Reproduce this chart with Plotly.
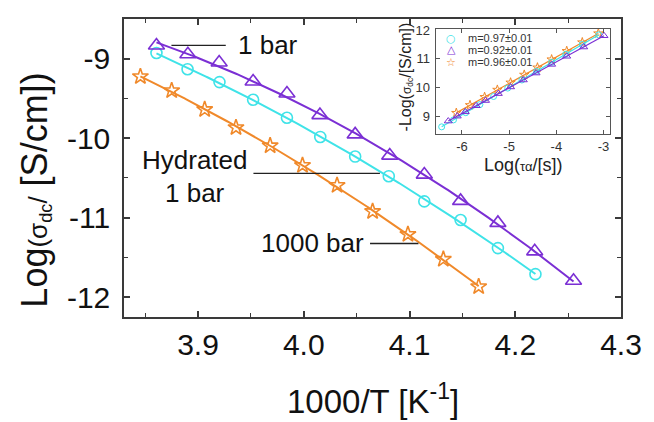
import numpy as np
import plotly.graph_objects as go

# ---------------- main panel data ----------------
x_1bar = [3.8607, 3.8904, 3.9200, 3.9521, 3.9841, 4.0153, 4.0486, 4.0813, 4.1140, 4.1483, 4.1836, 4.2184, 4.2551]
y_1bar = [-8.833, -8.944, -9.047, -9.286, -9.438, -9.709, -9.952, -10.219, -10.458, -10.789, -11.066, -11.424, -11.794]

x_hyd = [3.8607, 3.8901, 3.9203, 3.9521, 3.9841, 4.0156, 4.0486, 4.0804, 4.1140, 4.1483, 4.1836, 4.2191]
y_hyd = [-8.928, -9.133, -9.294, -9.516, -9.743, -9.984, -10.231, -10.478, -10.795, -11.029, -11.383, -11.711]

x_1000 = [3.8455, 3.8751, 3.9063, 3.9359, 3.9682, 3.9988, 4.0315, 4.0651, 4.0985, 4.1320, 4.1654]
y_1000 = [-9.224, -9.401, -9.639, -9.866, -10.095, -10.342, -10.594, -10.922, -11.210, -11.523, -11.868]

main_xticks = [3.9, 4.0, 4.1, 4.2, 4.3]
main_yticks = [-12, -11, -10, -9]
main_yticktext = ["-12", "-11", "-10", "-9"]

# ---------------- inset data ----------------
ix_hyd = [-6.43, -6.18, -5.92, -5.62, -5.33, -5.03, -4.73, -4.42, -4.10, -3.80, -3.45, -3.10]
iy_hyd = [8.65, 8.89, 9.14, 9.42, 9.70, 9.99, 10.27, 10.57, 10.88, 11.16, 11.50, 11.83]

ix_1bar = [-6.29, -6.10, -5.93, -5.70, -5.50, -5.23, -4.97, -4.70, -4.43, -4.10, -3.78, -3.42, -2.99]
iy_1bar = [8.85, 9.02, 9.17, 9.38, 9.56, 9.80, 10.03, 10.27, 10.51, 10.81, 11.09, 11.41, 11.80]

ix_1000 = [-6.12, -5.83, -5.52, -5.25, -4.97, -4.68, -4.40, -4.10, -3.78, -3.45, -3.11]
iy_1000 = [9.13, 9.40, 9.68, 9.93, 10.18, 10.45, 10.70, 10.98, 11.27, 11.57, 11.88]

inset_xticks = [-6, -5, -4, -3]
inset_xticktext = ["-6", "-5", "-4", "-3"]
inset_yticks = [9, 10, 11, 12]
legend_labels = ["m=0.97±0.01", "m=0.92±0.01", "m=0.96±0.01"]

PURPLE = "#7b2fd4"
CYAN = "#3fe3e8"
ORANGE = "#f0892a"
AX = "#3a3a3a"
FONT = "Liberation Sans, Arial, sans-serif"

# figure geometry (pixels)
W, H = 654, 422
L, R, T, B = 124, 27, 13, 105
PW, PH = W - L - R, H - T - B


def px(xp):
    return (xp - L) / PW


def py(yp):
    return (H - B - yp) / PH


def fit_curve(x, y, deg, n=200):
    c = np.polyfit(x, y, deg)
    xs = np.linspace(min(x), max(x), n)
    return xs, np.polyval(c, xs)


fig = go.Figure()

# main panel
for xs, ys, col, sym, size in [
    (x_1000, y_1000, ORANGE, "star-open", 12),
    (x_hyd, y_hyd, CYAN, "circle-open", 11),
    (x_1bar, y_1bar, PURPLE, "triangle-up-open", 14),
]:
    fx, fy = fit_curve(xs, ys, 2)
    fig.add_trace(go.Scatter(x=fx, y=fy, mode="lines", line=dict(color=col, width=2),
                             showlegend=False, hoverinfo="skip", xaxis="x", yaxis="y"))
    fig.add_trace(go.Scatter(x=xs, y=ys, mode="markers", showlegend=False,
                             marker=dict(symbol=sym, size=size, color=col, line=dict(width=1.6, color=col)),
                             xaxis="x", yaxis="y"))

# inset
for xs, ys, col, sym, size in [
    (ix_1000, iy_1000, ORANGE, "star-open", 7),
    (ix_hyd, iy_hyd, CYAN, "circle-open", 6),
    (ix_1bar, iy_1bar, PURPLE, "triangle-up-open", 7),
]:
    fx, fy = fit_curve(xs, ys, 1)
    fig.add_trace(go.Scatter(x=fx, y=fy, mode="lines", line=dict(color=col, width=1.2),
                             showlegend=False, hoverinfo="skip", xaxis="x2", yaxis="y2"))
    fig.add_trace(go.Scatter(x=xs, y=ys, mode="markers", showlegend=False,
                             marker=dict(symbol=sym, size=size, color=col, line=dict(width=1, color=col)),
                             xaxis="x2", yaxis="y2"))

axis_common = dict(showline=True, linecolor=AX, linewidth=1.5, mirror="allticks",
                   ticks="inside", tickcolor=AX, showgrid=False, zeroline=False)

ix0, ix1 = px(439.3), px(616)
iy0, iy1 = py(130.7), py(23.3)

fig.update_layout(
    width=W, height=H, margin=dict(l=L, r=R, t=T, b=B),
    paper_bgcolor="white", plot_bgcolor="white",
    font=dict(family=FONT, color="#111"),
    showlegend=False,
    xaxis=dict(domain=[0, 1], range=[3.83, 4.3], tickvals=main_xticks, tickformat=".1f",
               ticklen=6, tickwidth=1.5, tickfont=dict(size=30, color="#111"),
               ticklabelstandoff=0,
               minor=dict(ticks="inside", ticklen=4, dtick=0.05, tick0=3.85, tickcolor=AX, tickwidth=1.2),
               **axis_common),
    yaxis=dict(domain=[0, 1], range=[-12.25, -8.5], tickvals=main_yticks, ticktext=main_yticktext,
               ticklen=6, tickwidth=1.5, tickfont=dict(size=30, color="#111"),
               ticklabelstandoff=6,
               minor=dict(ticks="inside", ticklen=4, dtick=0.5, tick0=-12.5, tickcolor=AX, tickwidth=1.2),
               **axis_common),
    xaxis2=dict(domain=[ix0, ix1], anchor="y2", range=[-6.56, -2.86], tickvals=inset_xticks,
                ticktext=inset_xticktext, ticklen=4, tickwidth=1, tickfont=dict(size=13, color="#333"),
                ticklabelstandoff=0,
                showline=True, linecolor="#555", linewidth=1, mirror="allticks",
                ticks="inside", tickcolor="#555", showgrid=False, zeroline=False),
    yaxis2=dict(domain=[iy0, iy1], anchor="x2", range=[8.39, 12.03], tickvals=inset_yticks,
                ticklen=4, tickwidth=1, tickfont=dict(size=13, color="#333"),
                ticklabelstandoff=2,
                showline=True, linecolor="#555", linewidth=1, mirror="allticks",
                ticks="inside", tickcolor="#555", showgrid=False, zeroline=False),
)

ann = []
# axis titles
ann.append(dict(text="1000/T [K<sup>-1</sup>]", x=px(376), y=py(401), xref="paper", yref="paper",
                showarrow=False, font=dict(size=33, color="#111"), xanchor="center", yanchor="middle"))
ann.append(dict(text="Log<span style='font-size:26px'>(σ<sub>dc</sub>/</span> [S/cm])",
                x=px(33), y=py(188), xref="paper", yref="paper", textangle=-90,
                showarrow=False, font=dict(size=36, color="#111"), xanchor="center", yanchor="middle"))
# inset titles
ann.append(dict(text="Log(<span style='font-size:13px'>τα</span>/[s])", x=px(528), y=py(162), xref="paper",
                yref="paper", showarrow=False, font=dict(size=18, color="#222"), xanchor="center", yanchor="middle"))
ann.append(dict(text="-Log(<span style='font-size:12px'>σ<sub>dc</sub></span>/[S/cm])", x=px(410), y=py(72),
                xref="paper", yref="paper", textangle=-90, showarrow=False,
                font=dict(size=16, color="#222"), xanchor="center", yanchor="middle"))
# series labels
for txt, xp, yp in [("1 bar", 270, 40), ("Hydrated", 196, 157), ("1 bar", 196, 190), ("1000 bar", 315, 242)]:
    ann.append(dict(text=txt, x=px(xp), y=py(yp), xref="paper", yref="paper", showarrow=False,
                    font=dict(size=26, color="#111"), xanchor="center", yanchor="middle"))
# inset legend
for (sym, col), lab, yp in zip([("○", CYAN), ("△", PURPLE), ("☆", ORANGE)], legend_labels, [32.5, 44.5, 57]):
    ann.append(dict(text=sym, x=px(455), y=py(yp), xref="paper",
                    yref="paper", showarrow=False, font=dict(size=11, family="DejaVu Sans", color=col),
                    xanchor="center", yanchor="middle"))
    ann.append(dict(text=lab, x=px(470), y=py(yp), xref="paper", yref="paper", showarrow=False,
                    font=dict(size=11, color="#333"), xanchor="left", yanchor="middle"))
fig.update_layout(annotations=ann)

# leader lines for labels
for x0, x1, yp in [(172, 227, 40), (255, 383, 170.5), (373, 422, 242)]:
    fig.add_shape(type="line", xref="paper", yref="paper", x0=px(x0), x1=px(x1), y0=py(yp), y1=py(yp),
                  line=dict(color="#222", width=1.3))

fig.write_html("out.html", config={"displayModeBar": False},
               post_script="document.body.style.margin='0px';document.body.style.padding='0px';")
